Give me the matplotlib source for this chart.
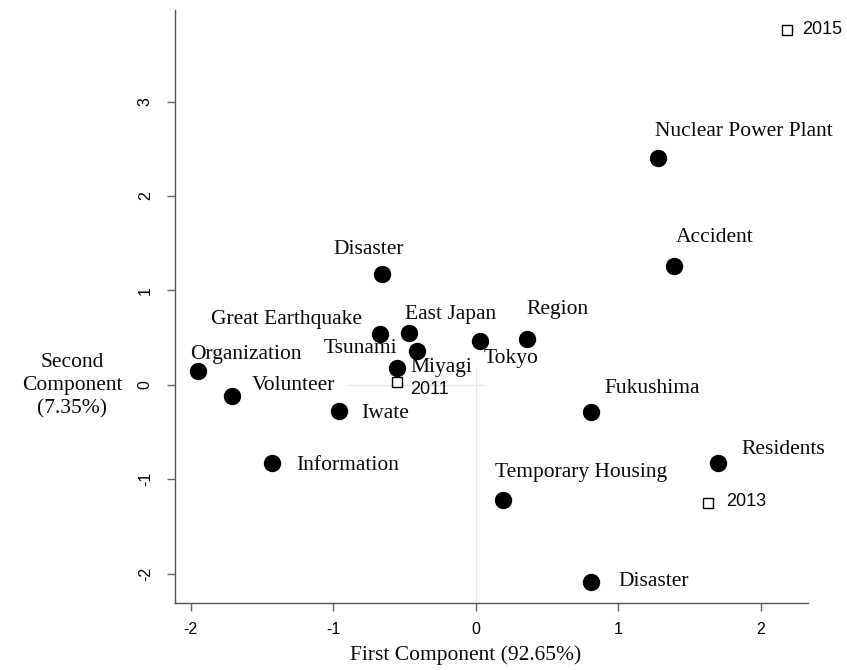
import matplotlib
matplotlib.use("Agg")
import matplotlib.pyplot as plt

# ---- data ----
terms = ["Nuclear Power Plant", "Accident", "Disaster", "Great Earthquake", "East Japan",
         "Tsunami", "Miyagi", "Tokyo", "Region", "Organization", "Volunteer", "Iwate",
         "Information", "Fukushima", "Residents", "Temporary Housing", "Disaster"]
term_x = [1.28, 1.39, -0.66, -0.67, -0.47, -0.41, -0.55, 0.03, 0.36, -1.95, -1.71, -0.96,
          -1.43, 0.81, 1.70, 0.19, 0.81]
term_y = [2.40, 1.26, 1.17, 0.54, 0.55, 0.36, 0.18, 0.46, 0.49, 0.15, -0.12, -0.28,
          -0.83, -0.29, -0.83, -1.22, -2.09]

years = ["2011", "2013", "2015"]
year_x = [-0.55, 1.63, 2.18]
year_y = [0.03, -1.25, 3.76]

x_ticks = [-2, -1, 0, 1, 2]
y_ticks = [-2, -1, 0, 1, 2, 3]

# ---- layout (label offsets in pixels: ha, dx, dy) ----
term_offsets = [("left", -3, 27), ("left", 2, 28), ("center", -13, 25), ("right", -18, 14),
                ("left", -4, 18), ("right", -20, 2), ("left", 13, 0), ("left", 4, -17),
                ("left", -1, 29), ("left", -8, 16), ("left", 20, 11), ("left", 22, -2),
                ("left", 24, -2), ("left", 13, 24), ("left", 23, 14), ("left", -8, 28),
                ("left", 27, 1)]
year_offsets = [("left", 13, -7), ("left", 18, 1), ("left", 16, 0)]

serif = ["Liberation Serif", "DejaVu Serif"]
sans = ["Liberation Sans", "DejaVu Sans"]

fig = plt.figure(figsize=(8.47, 6.70), dpi=100)
ax = fig.add_axes([175 / 847, 67 / 670, (808 - 175) / 847, (603 - 10) / 670])
ax.set_xlim(-2.11, 2.33)
ax.set_ylim(-2.31, 3.97)

# faint reference lines
ax.hlines(0, -0.90, 0.06, color="#e6e6e6", lw=1, zorder=0)
ax.vlines(0, -2.31, 0.19, color="#e6e6e6", lw=1, zorder=0)

ax.plot(term_x, term_y, "o", color="black", markersize=11.5, zorder=3)
ax.plot(year_x, year_y, "s", markerfacecolor="white", markeredgecolor="black",
        markeredgewidth=1.0, markersize=7, zorder=3)

for t, x, y, (ha, dx, dy) in zip(terms, term_x, term_y, term_offsets):
    ax.annotate(t, (x, y), xytext=(dx, dy), textcoords="offset pixels", ha=ha,
                va="center", fontsize=15.5, family=serif, color="#0a0a0a")
for t, x, y, (ha, dx, dy) in zip(years, year_x, year_y, year_offsets):
    ax.annotate(t, (x, y), xytext=(dx, dy), textcoords="offset pixels", ha=ha,
                va="center", fontsize=13, family=sans, color="#0a0a0a")

for s in ["top", "right"]:
    ax.spines[s].set_visible(False)
for s in ["left", "bottom"]:
    ax.spines[s].set_color("#555555")
    ax.spines[s].set_linewidth(1.0)

ax.set_xticks(x_ticks)
ax.set_yticks(y_ticks)
ax.set_xticklabels([str(v) for v in x_ticks], family=sans, fontsize=11.5)
ax.set_yticklabels([str(v) for v in y_ticks], family=sans, fontsize=11.5, rotation=90, va="center")
ax.tick_params(axis="both", direction="out", length=6, width=1, color="#666666")
ax.tick_params(axis="x", pad=8)
ax.tick_params(axis="y", pad=10)

fig.text(466 / 847, 1 - 655 / 670, "First Component (92.65%)", ha="center", va="center",
         fontsize=15.5, family=serif, color="#0a0a0a")
fig.text(72 / 847, 1 - 386 / 670, "Second\nComponent\n(7.35%)", ha="center", va="center",
         fontsize=15.5, family=serif, color="#0a0a0a", linespacing=1.28)

fig.savefig("out.png", dpi=100)
